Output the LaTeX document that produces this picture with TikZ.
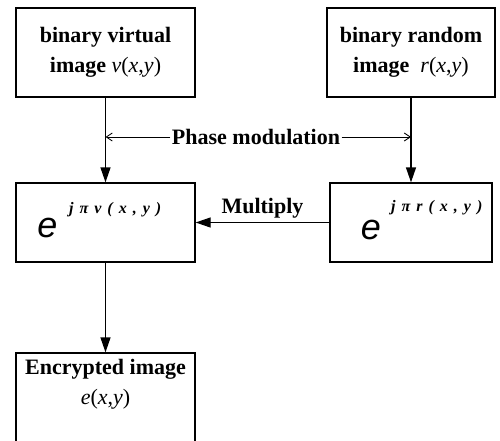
\documentclass[tikz,border=0pt]{standalone}
\usepackage{fontspec}
\setmainfont{Liberation Serif}
\newfontfamily\esans{Liberation Sans}
\usetikzlibrary{arrows.meta}
\newcommand{\spc}{\hspace{6pt}}
\begin{document}
\begin{tikzpicture}[x=1pt,y=-1pt,
  box/.style={draw,line width=1.3pt,inner sep=0pt},
  lbl/.style={font=\fontsize{22}{30}\selectfont\bfseries,align=center},
  efont/.style={font=\esans\itshape\fontsize{36}{36}\selectfont,inner sep=0pt},
  supfont/.style={font=\fontsize{16}{16}\selectfont\bfseries\itshape,inner sep=0pt},
  arr/.style={line width=1.3pt,-{Triangle[length=15pt,width=10pt]}},
  thinarr/.style={line width=0.9pt,-{Straight Barb[length=6pt,width=8pt]}}]
\useasboundingbox (0,0) rectangle (500,441);
\clip (0,0) rectangle (500,441);
% boxes
\node[box,lbl,minimum width=179pt,minimum height=89pt] (vbox) at (105.5,52.5)
  {binary virtual\\image {\mdseries\textit{v}(\textit{x},\textit{y})}};
\node[box,lbl,minimum width=168pt,minimum height=89pt] (rbox) at (411,52.5)
  {binary random\\image\ \ {\mdseries\textit{r}(\textit{x},\textit{y})}};
\node[box,minimum width=179pt,minimum height=79pt] (ebox1) at (105.5,222.5) {};
\node[box,minimum width=162pt,minimum height=79pt] (ebox2) at (411,222.5) {};
\node[box,minimum width=179pt,minimum height=117pt] (outbox) at (105.5,411.5) {};
% contents
\node[efont] (e1) at (47.5,228) {e};
\node[supfont,anchor=west] (s1) at (69,209.5) {j\spc π\spc ν\spc (\spc x\spc ,\spc y\spc )};
\node[efont] (e2) at (371,230) {e};
\node[supfont,anchor=west] (s2) at (391,207.5) {j\spc π\spc r\spc (\spc x\spc ,\spc y\spc )};
\node[lbl,inner sep=0pt] (outtxt) at (105.5,384)
  {Encrypted image\\{\mdseries\textit{e}(\textit{x},\textit{y})}};
% connectors
\draw[arr] (vbox.south) -- (ebox1.north);
\draw[arr] (rbox.south) -- (ebox2.north);
\draw[arr] (ebox1.south) -- (outbox.north);
\draw[arr] (ebox2.west) -- node[lbl,above=4pt,inner sep=0pt] (mul) {Multiply} (ebox1.east);
\node[lbl,inner sep=1.5pt] (pm) at (256,137) {Phase modulation};
\draw[thinarr] (pm.west) -- (pm.west -| ebox1.north);
\draw[thinarr] (pm.east) -- (pm.east -| ebox2.north);
\end{tikzpicture}
\end{document}
